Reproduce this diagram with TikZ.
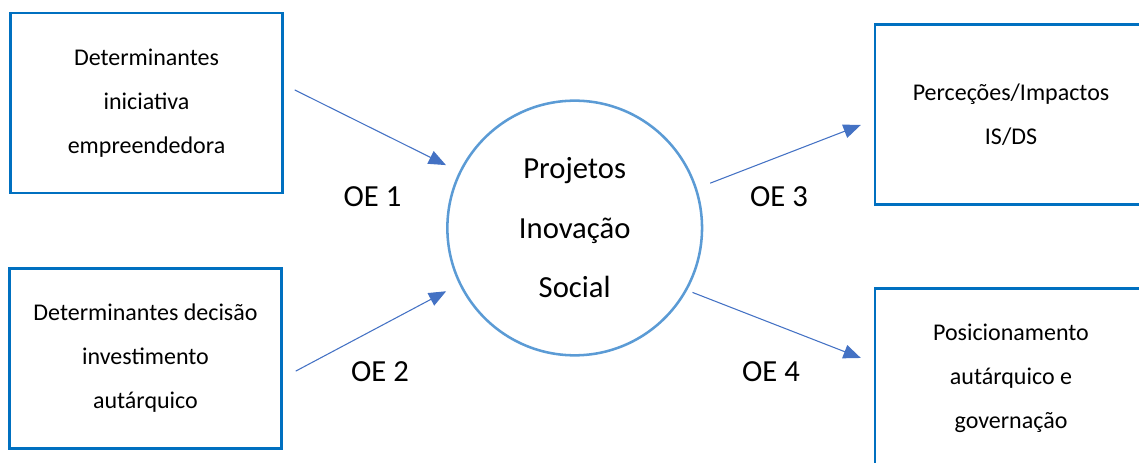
\documentclass[tikz,border=0pt]{standalone}
\usepackage{fontspec}
\setmainfont{Carlito}
\usetikzlibrary{arrows.meta, positioning, calc}
\definecolor{boxblue}{RGB}{0,112,192}
\definecolor{ringblue}{RGB}{91,155,213}
\definecolor{arrowblue}{RGB}{68,114,196}

\begin{document}
\begin{tikzpicture}[
      x=0.75pt, y=-0.75pt,
      block/.style={draw=boxblue, line width=1.9pt, minimum width=204pt, minimum height=135pt, align=center, font=\fontsize{18}{33}\selectfont},
      ring/.style={circle, draw=ringblue, line width=1.9pt, minimum size=191pt, align=center, font=\fontsize{23}{44.6}\selectfont},
      oe/.style={font=\fontsize{23}{27}\selectfont},
      arr/.style={-{Triangle[length=13pt, width=10.5pt]}, arrowblue, line width=0.8pt}
    ]
      \useasboundingbox (0,0) rectangle (1139,463);

      \node[block] (iniciativa) at (146.5,103) {Determinantes\\iniciativa\\empreendedora};
      \node[block] (decisao) at (145.5,358.5) {Determinantes decisão\\investimento\\autárquico};
      \node[ring] (projetos) at (574.7,228) {Projetos\\Inovação\\Social};
      \node[block] (impactos) at (1011,114.5) {Perceções/Impactos\\IS/DS};
      \node[block] (governacao) at (1011,378.5) {Posicionamento\\autárquico e\\governação};

      \draw[arr, shorten <=9.2pt, shorten >=11pt] ($(iniciativa.east)+(0,-18.5)$) -- (projetos.154);
      \draw[arr, shorten <=11pt, shorten >=11pt] ($(decisao.east)+(0,19.5)$) -- (projetos.206);
      \draw[arr, shorten <=10.6pt, shorten >=10.4pt] (projetos.18) -- ($(impactos.west)+(0,5.5)$);
      \draw[arr, shorten <=4.3pt, shorten >=10.4pt] (projetos.-29) -- ($(governacao.west)+(0,-15.5)$);

      % Objective labels
      \node[oe] (oe1) at (372.5,197) {OE 1};
      \node[oe] (oe2) at (380,372) {OE 2};
      \node[oe] (oe3) at (779,197) {OE 3};
      \node[oe] (oe4) at (771,372) {OE 4};
    \end{tikzpicture}
\end{document}
